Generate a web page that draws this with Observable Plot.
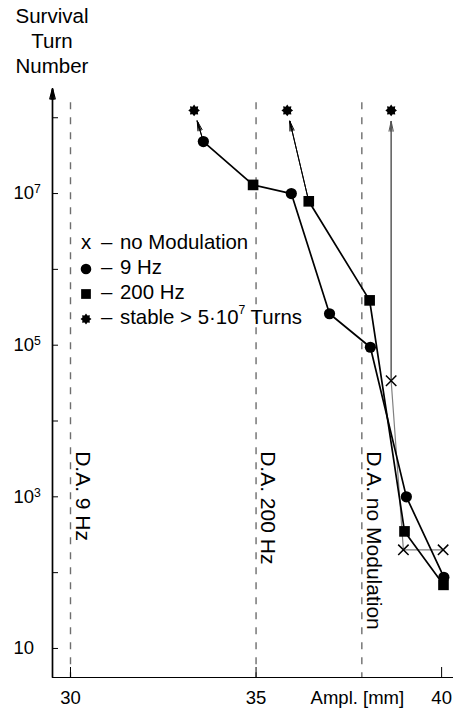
<!DOCTYPE html>
<html><head><meta charset="utf-8">
<script src="https://cdn.jsdelivr.net/npm/d3@7"></script>
<script src="https://cdn.jsdelivr.net/npm/@observablehq/plot@0.6"></script>
<style>
body{margin:0;background:#fff;}
#wrap{position:relative;width:453px;height:710px;font-family:'Liberation Sans',Arial,sans-serif;color:#000;}
#title{position:absolute;left:0;top:0;width:104px;text-align:center;font-size:20.5px;line-height:25px;padding-top:3px;}
.leg{position:absolute;font-size:20.4px;line-height:25px;white-space:nowrap;}
.leg sup{font-size:0.6em;line-height:0;position:relative;top:-0.2em;}
.leg .dash{margin-right:2px;}
.legsym{position:absolute;overflow:visible;}
</style></head>
<body><div id="wrap"><div id="title">Survival<br>Turn<br>Number</div></div>
<script>
// ---- data ----
const nineHzAmpl = [33.58, 35.95, 36.98, 38.08, 39.05, 40.06];
const nineHzTurns = [4.85e7, 1.0e7, 2.6e5, 9.4e4, 1.0e3, 87];
const twoHundredHzAmpl = [34.92, 36.42, 38.06, 39.00, 40.05];
const twoHundredHzTurns = [1.3e7, 7.9e6, 3.9e5, 350, 69];
const noModAmpl = [38.64, 38.97, 40.04];
const noModTurns = [3.4e4, 200, 200];
const stableAmpl = [33.33, 35.84, 38.64];
const stableTurns = [1.25e8, 1.25e8, 1.25e8];
const daAmpl = [30, 35, 37.85];
const daLabels = ["D.A. 9 Hz", "D.A. 200 Hz", "D.A. no Modulation"];
const daLabelStart = 4000;
const dashTop = 1.58e8;
const decades = [10, 1e2, 1e3, 1e4, 1e5, 1e6, 1e7, 1e8];
const labeledDecades = [10, 1e3, 1e5, 1e7];
const xTicks = [30, 35, 40];
const xLabel = "Ampl. [mm]";
const xLabelAt = 37.73;
const xDomain = [29.515, 40.32];
const yDomain = [4.14, 2.43e8];
const legendSymbols = ["x", "circle", "square", "star"];
const legendLabels = ["– no Modulation", "– 9 Hz", "– 200 Hz", "– stable > 5·10^7 Turns"];

// ---- build ----
const pts = (xs, ys) => xs.map((x, i) => ({x, y: ys[i]}));
const nine = pts(nineHzAmpl, nineHzTurns);
const two = pts(twoHundredHzAmpl, twoHundredHzTurns);
const noMod = pts(noModAmpl, noModTurns);
const stable = pts(stableAmpl, stableTurns);
const pathA = [nine[0], two[0], ...nine.slice(1)];
const pathB = two.slice(1);
const arrows = [
  {from: nine[0], to: stable[0], c: "black"},
  {from: two[1], to: stable[1], c: "black"},
  {from: noMod[0], to: stable[2], c: "#555"}
];
const das = daAmpl.map((x, i) => ({x, label: daLabels[i]}));

const starSymbol = {draw(ctx, size) {
  const R = Math.sqrt(size / Math.PI), r0 = R * 0.7;
  for (let i = 0; i < 16; i++) {
    const a = i * Math.PI / 8 - Math.PI / 2, rr = i % 2 ? r0 : R;
    const px = rr * Math.cos(a), py = rr * Math.sin(a);
    i ? ctx.lineTo(px, py) : ctx.moveTo(px, py);
  }
  ctx.closePath();
}};

const dataArrowMarks = [25, 10].map(a => Plot.arrow(arrows, {
  x1: d => d.from.x, y1: d => d.from.y, x2: d => d.to.x, y2: d => d.to.y,
  stroke: "c", strokeWidth: 1, headLength: 15, headAngle: a, insetEnd: 11
}));
const axisArrowMarks = [30, 20, 10, 3].map(a => Plot.arrow([0], {
  x1: () => xDomain[0], x2: () => xDomain[0], y1: () => yDomain[0], y2: () => yDomain[1],
  stroke: "black", strokeWidth: 1.2, headLength: 13.5, headAngle: a
}));

const plot = Plot.plot({
  width: 453, height: 710,
  marginLeft: 52, marginRight: 0, marginTop: 88, marginBottom: 33,
  x: {domain: xDomain, label: null},
  y: {type: "log", domain: yDomain, label: null},
  style: {fontFamily: "'Liberation Sans', Arial, sans-serif", fontSize: "18.5px", color: "black", background: "white", overflow: "visible"},
  marks: [
    Plot.ruleX(das, {x: "x", y1: () => dashTop, y2: () => yDomain[0], stroke: "#6e6e6e", strokeWidth: 1.4, strokeDasharray: "7,8"}),
    Plot.text(das, {x: "x", y: () => daLabelStart, text: "label", rotate: 90, textAnchor: "start", lineAnchor: "middle", dx: 12, fontSize: 21, fill: "black"}),
    Plot.ruleY([yDomain[0]], {stroke: "black", strokeWidth: 1.2}),
    ...axisArrowMarks,
    Plot.axisY({ticks: decades, tickSize: -6, tickPadding: 45, textAnchor: "start", label: null,
      tickFormat: d => labeledDecades.includes(d) ? (d === 10 ? "10" : "10^" + Math.round(Math.log10(d))) : ""}),
    Plot.axisX({ticks: xTicks, tickSize: -10, tickPadding: 23, label: null, tickFormat: d => String(d)}),
    Plot.axisX({ticks: [xLabelAt], tickSize: 0, tickPadding: 13, label: null, tickFormat: () => xLabel}),
    Plot.line(noMod, {x: "x", y: "y", stroke: "#808080", strokeWidth: 1.2}),
    Plot.line(pathA, {x: "x", y: "y", stroke: "black", strokeWidth: 1.7}),
    Plot.line(pathB, {x: "x", y: "y", stroke: "black", strokeWidth: 1.7}),
    ...dataArrowMarks,
    Plot.dot(nine, {x: "x", y: "y", r: 5.6, fill: "black", symbol: "circle"}),
    Plot.dot(two, {x: "x", y: "y", r: 6, fill: "black", symbol: "square"}),
    Plot.dot(noMod, {x: "x", y: "y", r: 4.8, stroke: "black", strokeWidth: 1.5, symbol: "times"}),
    Plot.dot(stable, {x: "x", y: "y", r: 5.8, fill: "black", symbol: starSymbol})
  ]
});

d3.select(plot).selectAll('g[aria-label="y-axis tick label"] text').each(function() {
  const t = this.textContent;
  if (t.includes("^")) {
    const [b, e] = t.split("^");
    this.textContent = b;
    d3.select(this).append("tspan").attr("dy", "-0.5em").attr("font-size", "0.66em").text(e);
  }
});

const wrap = document.getElementById("wrap");
wrap.appendChild(plot);

// legend
const symTypes = {circle: [d3.symbolCircle, 88], square: [d3.symbolSquare, 95], star: [starSymbol, Math.PI * 30]};
legendLabels.forEach((lab, i) => {
  const top = 230 + 25 * i;
  const div = document.createElement("div");
  div.className = "leg";
  div.style.left = "101px"; div.style.top = top + "px";
  div.innerHTML = lab.replace(/^–\s/, '<span class="dash">–</span> ').replace(/\^(\d+)/, "<sup>$1</sup>");
  wrap.appendChild(div);
  const s = legendSymbols[i];
  if (s === "x") {
    const xd = document.createElement("div");
    xd.className = "leg";
    xd.style.left = "81px"; xd.style.top = top + "px";
    xd.textContent = "x";
    wrap.appendChild(xd);
  } else {
    const svg = d3.create("svg").attr("class", "legsym").attr("width", 14).attr("height", 14)
      .style("left", (86 - 7) + "px").style("top", (top + 14 - 7) + "px");
    svg.append("path").attr("transform", "translate(7,7)")
      .attr("d", d3.symbol().type(symTypes[s][0]).size(symTypes[s][1])()).attr("fill", "black");
    wrap.appendChild(svg.node());
  }
});
</script></body></html>
